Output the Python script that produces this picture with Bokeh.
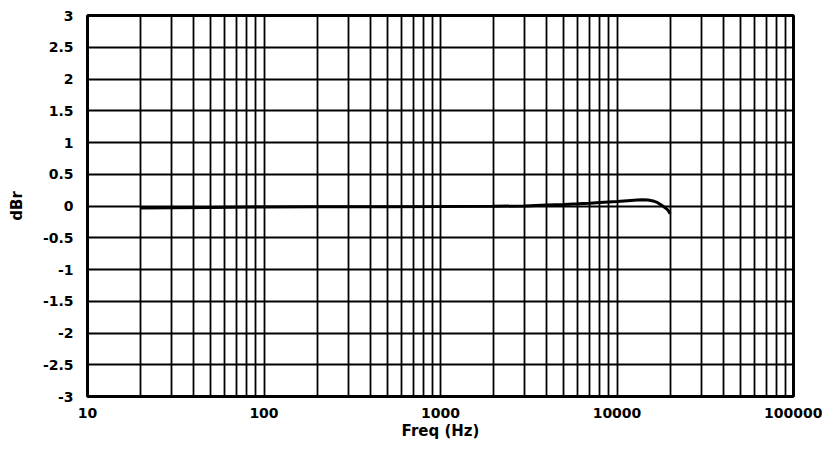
from bokeh.plotting import figure
from bokeh.models import FixedTicker, Range1d
from bokeh.embed import file_html
from bokeh.resources import INLINE

freq = [20, 30, 50, 100, 200, 500, 1000, 2000, 3000, 4000, 5000, 6000, 7000,
        8000, 10000, 12000, 13000, 14000, 15000, 16000, 17000, 18000, 19000, 19500, 20000]
dbr = [-0.032, -0.028, -0.022, -0.016, -0.013, -0.01, -0.008, -0.004, 0.0, 0.015,
       0.025, 0.035, 0.045, 0.055, 0.07, 0.088, 0.095, 0.098, 0.094, 0.08, 0.052,
       0.008, -0.04, -0.07, -0.12]

x_ticks = [10, 100, 1000, 10000, 100000]
x_labels = ["10", "100", "1000", "10000", "100000"]
y_ticks = [-3, -2.5, -2, -1.5, -1, -0.5, 0, 0.5, 1, 1.5, 2, 2.5, 3]
y_labels = ["-3", "-2.5", "-2", "-1.5", "-1", "-0.5", "0", "0.5", "1", "1.5", "2", "2.5", "3"]
x_grid = [m * 10 ** e for e in range(1, 5) for m in range(1, 10)] + [100000]

FONT = "DejaVu Sans"

p = figure(width=822, height=451, x_axis_type="log",
           x_range=Range1d(10, 100000), y_range=Range1d(-3, 3),
           output_backend="svg", toolbar_location=None,
           min_border_left=87, min_border_right=29, min_border_top=15, min_border_bottom=55)

p.line(freq, dbr, line_color="black", line_width=3)

p.outline_line_color = "black"
p.outline_line_width = 3

p.xaxis.ticker = FixedTicker(ticks=x_ticks)
p.xaxis.major_label_overrides = {t: l for t, l in zip(x_ticks, x_labels)}
p.yaxis.ticker = FixedTicker(ticks=y_ticks)
p.yaxis.major_label_overrides = {t: l for t, l in zip(y_ticks, y_labels)}

for ax in (p.xaxis, p.yaxis):
    ax.axis_line_color = None
    ax.major_tick_line_color = None
    ax.minor_tick_line_color = None
    ax.major_tick_out = 0
    ax.major_tick_in = 0
    ax.major_label_text_font = FONT
    ax.major_label_text_font_style = "bold"
    ax.major_label_text_font_size = "14px"
    ax.major_label_text_color = "black"
    ax.axis_label_text_font = FONT
    ax.axis_label_text_font_style = "bold"
    ax.axis_label_text_font_size = "15px"
    ax.axis_label_text_color = "black"

p.xaxis.axis_label = "Freq (Hz)"
p.yaxis.axis_label = "dBr"
p.xaxis.major_label_standoff = 11
p.yaxis.major_label_standoff = 14
p.xaxis.axis_label_standoff = 1
p.yaxis.axis_label_standoff = 14

p.xgrid.ticker = FixedTicker(ticks=x_grid)
p.xgrid.grid_line_color = "black"
p.xgrid.grid_line_width = 1.8
p.ygrid.ticker = FixedTicker(ticks=y_ticks)
p.ygrid.grid_line_color = "black"
p.ygrid.grid_line_width = 1.8

open("out.html", "w").write(file_html(p, INLINE))
